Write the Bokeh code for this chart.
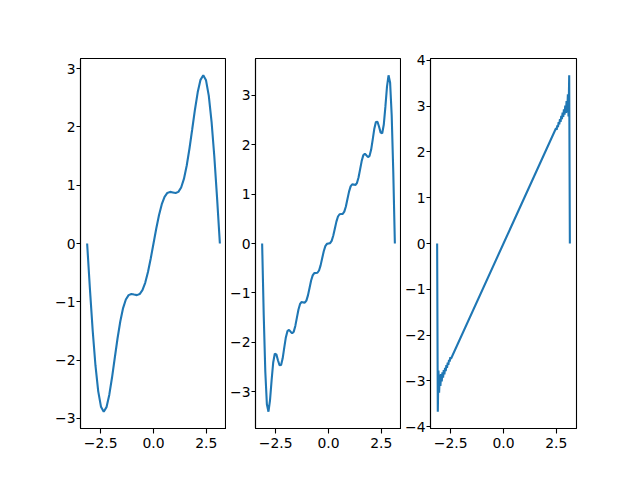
from bokeh.plotting import figure
from bokeh.layouts import row
from bokeh.models import Range1d, FixedTicker, CustomJSTickFormatter
from bokeh.embed import file_html
from bokeh.resources import INLINE

# Panel 1 (few-term partial sum)
x1 = [-3.1416, -3.0107, -2.8798, -2.7489, -2.6180, -2.4871, -2.3562, -2.2253, -2.0944, -1.9635,
      -1.8326, -1.7017, -1.5708, -1.4399, -1.3090, -1.1781, -1.0472, -0.9163, -0.7854, -0.6545,
      -0.5236, -0.3927, -0.2618, -0.1309,
      0.0000, 0.1309, 0.2618, 0.3927, 0.5236, 0.6545, 0.7854, 0.9163, 1.0472, 1.1781, 1.3090,
      1.4399, 1.5708, 1.7017, 1.8326, 1.9635, 2.0944, 2.2253, 2.3562, 2.4871, 2.6180, 2.7489,
      2.8798, 3.0107, 3.1416]
y1 = [0.0, -0.7750, -1.4890, -2.0884, -2.5327, -2.7994, -2.8856, -2.8078, -2.5981, -2.2998,
      -1.9605, -1.6258, -1.3333, -1.1082, -0.9605, -0.8855, -0.8660, -0.8759, -0.8856, -0.8675,
      -0.8006, -0.6742, -0.4890, -0.2574,
      0.0, 0.2574, 0.4890, 0.6742, 0.8006, 0.8675, 0.8856, 0.8759, 0.8660, 0.8855, 0.9605,
      1.1082, 1.3333, 1.6258, 1.9605, 2.2998, 2.5981, 2.8078, 2.8856, 2.7994, 2.5327, 2.0884,
      1.4890, 0.7750, 0.0]

# Panel 2 (more terms)
x2 = [-3.1416, -3.0668, -2.9920, -2.9172, -2.8424, -2.7676, -2.6928, -2.6180, -2.5432, -2.4684,
      -2.3936, -2.3188, -2.2440, -2.1692, -2.0944, -2.0196, -1.9448, -1.8700, -1.7952, -1.7204,
      -1.6456, -1.5708, -1.4960, -1.4212, -1.3464, -1.2716, -1.1968, -1.1220, -1.0472, -0.9724,
      -0.8976, -0.8228, -0.7480, -0.6732, -0.5984, -0.5236, -0.4488, -0.3740, -0.2992, -0.2244,
      -0.1496, -0.0748,
      0.0000, 0.0748, 0.1496, 0.2244, 0.2992, 0.3740, 0.4488, 0.5236, 0.5984, 0.6732, 0.7480,
      0.8228, 0.8976, 0.9724, 1.0472, 1.1220, 1.1968, 1.2716, 1.3464, 1.4212, 1.4960, 1.5708,
      1.6456, 1.7204, 1.7952, 1.8700, 1.9448, 2.0196, 2.0944, 2.1692, 2.2440, 2.3188, 2.3936,
      2.4684, 2.5432, 2.6180, 2.6928, 2.7676, 2.8424, 2.9172, 2.9920, 3.0668, 3.1416]
y2 = [0.0, -1.4433, -2.5927, -3.2569, -3.4071, -3.1709, -2.7673, -2.4111, -2.2332, -2.2461,
      -2.3642, -2.4658, -2.4610, -2.3263, -2.1093, -1.9026, -1.7757, -1.7493, -1.7861, -1.8179,
      -1.7856, -1.6698, -1.5017, -1.3360, -1.2246, -1.1850, -1.1931, -1.1992, -1.1572, -1.0505,
      -0.9000, -0.7509, -0.6457, -0.6007, -0.5969, -0.5924, -0.5465, -0.4432, -0.2999, -0.1570,
      -0.0541, -0.0074,
      0.0, 0.0074, 0.0541, 0.1570, 0.2999, 0.4432, 0.5465, 0.5924, 0.5969, 0.6007, 0.6457,
      0.7509, 0.9000, 1.0505, 1.1572, 1.1992, 1.1931, 1.1850, 1.2246, 1.3360, 1.5017, 1.6698,
      1.7856, 1.8179, 1.7861, 1.7493, 1.7757, 1.9026, 2.1093, 2.3263, 2.4610, 2.4658, 2.3642,
      2.2461, 2.2332, 2.4111, 2.7673, 3.1709, 3.4071, 3.2569, 2.5927, 1.4433, 0.0]

# Panel 3 (many terms, Gibbs ripples near the ends)
x3 = [-3.1416, -3.1103, -3.0791, -3.0478, -3.0166, -2.9853, -2.9540, -2.9228, -2.8915, -2.8603,
      -2.8290, -2.7977, -2.7665, -2.7352, -2.7040, -2.6727, -2.6414, -2.6102, -2.5789, -2.5477,
      -2.5164, -2.4851,
      0.0,
      2.4851, 2.5164, 2.5477, 2.5789, 2.6102, 2.6414, 2.6727, 2.7040, 2.7352, 2.7665, 2.7977,
      2.8290, 2.8603, 2.8915, 2.9228, 2.9540, 2.9853, 3.0166, 3.0478, 3.0791, 3.1103, 3.1416]
y3 = [0.0, -3.6726, -2.7738, -3.2557, -2.8593, -3.1116, -2.8485, -3.0133, -2.8122, -2.9310,
      -2.7654, -2.8558, -2.7135, -2.7845, -2.6585, -2.7151, -2.6016, -2.6476, -2.5435, -2.5813,
      -2.4846, -2.5155,
      0.0,
      2.5155, 2.4846, 2.5813, 2.5435, 2.6476, 2.6016, 2.7151, 2.6585, 2.7845, 2.7135, 2.8558,
      2.7654, 2.9310, 2.8122, 3.0133, 2.8485, 3.1116, 2.8593, 3.2557, 2.7738, 3.6726, 0.0]

x_ticks = [-2.5, 0.0, 2.5]
y_ticks_1 = [-3, -2, -1, 0, 1, 2, 3]
y_ticks_2 = [-3, -2, -1, 0, 1, 2, 3]
y_ticks_3 = [-4, -3, -2, -1, 0, 1, 2, 3, 4]

FONT = "DejaVu Sans"
FS = "13.9px"
XLIM = 3.4558


def fmt(decimals):
    return CustomJSTickFormatter(code="""
        const s = Math.abs(tick).toFixed(%d);
        return (tick < 0 ? '\u2212' : '') + s;
    """ % decimals)


def make(x, y, ylim, yticks, left, right):
    p = figure(frame_width=146, frame_height=370,
               x_range=Range1d(-XLIM, XLIM), y_range=Range1d(-ylim, ylim),
               output_backend="svg", toolbar_location=None,
               min_border_left=left, min_border_right=right,
               min_border_top=58, min_border_bottom=45)
    p.line(x, y, line_color="#1f77b4", line_width=2.1)
    p.xgrid.visible = False
    p.ygrid.visible = False
    p.outline_line_color = "black"
    p.outline_line_width = 1.1
    p.outline_line_alpha = 1.0
    p.background_fill_color = "white"
    p.border_fill_color = "white"
    p.xaxis.ticker = FixedTicker(ticks=x_ticks)
    p.yaxis.ticker = FixedTicker(ticks=yticks)
    p.xaxis.formatter = fmt(1)
    p.yaxis.formatter = fmt(0)
    for ax in (p.xaxis, p.yaxis):
        ax.axis_line_color = "black"
        ax.axis_line_width = 1.1
        ax.major_tick_line_color = "black"
        ax.major_tick_line_width = 1.1
        ax.major_tick_in = 0
        ax.minor_tick_line_color = None
        ax.major_label_text_font = FONT
        ax.major_label_text_font_size = FS
        ax.major_label_text_color = "black"
    p.xaxis.major_tick_out = 5
    p.xaxis.major_label_standoff = 4
    p.yaxis.major_tick_out = 4
    p.yaxis.major_label_standoff = 1
    return p


p1 = make(x1, y1, 3.1742, y_ticks_1, 80, 0)
p2 = make(x2, y2, 3.7478, y_ticks_2, 29, 0)
p3 = make(x3, y3, 4.0399, y_ticks_3, 29, 30)

layout = row(p1, p2, p3, spacing=0)
open("out.html", "w").write(file_html(layout, INLINE))
